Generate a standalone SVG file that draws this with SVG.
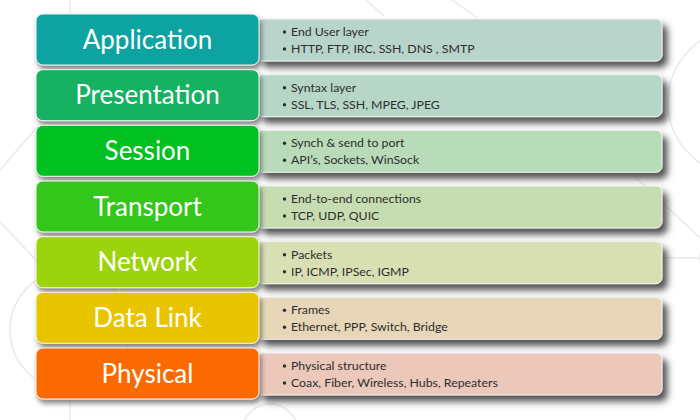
<svg xmlns="http://www.w3.org/2000/svg" width="700" height="420" viewBox="0 0 700 420">
  <defs>
    <filter id="shadowR" x="-10%" y="-30%" width="125%" height="180%">
      <feDropShadow dx="5" dy="6" stdDeviation="3.5" flood-color="#3c3c3c" flood-opacity="0.9"/>
    </filter>
    <filter id="shadowL" x="-10%" y="-30%" width="125%" height="180%">
      <feDropShadow dx="2" dy="4" stdDeviation="2.5" flood-color="#444" flood-opacity="0.65"/>
    </filter>
  </defs>
  <style>
    .bg { fill: none; stroke: #e8e8ee; stroke-width: 1.5; }
    .layer { stroke: #f4f4f4; stroke-width: 1; filter: url(#shadowL); }
    .info { stroke: #f2f2f2; stroke-width: 1; filter: url(#shadowR); }
    .name { font-family: Lato, "Open Sans", "Liberation Sans", sans-serif; font-size: 26px; fill: #ffffff; text-anchor: middle; }
    .item { font-family: Lato, "Open Sans", "Liberation Sans", sans-serif; font-size: 12.3px; fill: #2e2e2e; }
    .dot { fill: #2e2e2e; }
  </style>

  <rect width="700" height="420" fill="#ffffff"/>

  <!-- faint background ornament -->
  <g id="backdrop">
    <circle class="bg" cx="742" cy="102" r="74"/>
    <circle class="bg" cx="728" cy="258" r="28"/>
    <circle class="bg" cx="70" cy="330" r="60"/>
    <circle class="bg" cx="270" cy="432" r="28"/>
    <line class="bg" x1="0" y1="170" x2="38" y2="126"/>
    <line class="bg" x1="0" y1="222" x2="38" y2="262"/>
    <line class="bg" x1="630" y1="172" x2="700" y2="238"/>
    <line class="bg" x1="660" y1="258" x2="700" y2="258"/>
    <line class="bg" x1="366" y1="0" x2="384" y2="16"/>
    <line class="bg" x1="452" y1="0" x2="476" y2="17"/>
    <line class="bg" x1="70" y1="0" x2="70" y2="14"/>
    <line class="bg" x1="70" y1="400" x2="70" y2="420"/>
  </g>

  <!-- Application -->
  <g id="application">
    <rect class="info" x="257" y="19" width="405" height="42" rx="6" fill="#b8d4cb"/>
    <rect class="layer" x="36" y="14" width="223" height="51" rx="7" fill="#11a3a0"/>
    <text class="name" x="147.5" y="48.5">Application</text>
    <circle class="dot" cx="284.5" cy="32" r="1.7"/>
    <text class="item" x="291" y="36">End User layer</text>
    <circle class="dot" cx="284.5" cy="49" r="1.7"/>
    <text class="item" x="291" y="53">HTTP, FTP, IRC, SSH, DNS , SMTP</text>
  </g>

  <!-- Presentation -->
  <g id="presentation">
    <rect class="info" x="257" y="74.7" width="405" height="42" rx="6" fill="#b6d6c7"/>
    <rect class="layer" x="36" y="69.7" width="223" height="51" rx="7" fill="#12b163"/>
    <text class="name" x="147.5" y="104.2">Presentation</text>
    <circle class="dot" cx="284.5" cy="87.7" r="1.7"/>
    <text class="item" x="291" y="91.7">Syntax layer</text>
    <circle class="dot" cx="284.5" cy="104.7" r="1.7"/>
    <text class="item" x="291" y="108.7">SSL, TLS, SSH, MPEG, JPEG</text>
  </g>

  <!-- Session -->
  <g id="session">
    <rect class="info" x="257" y="130.3" width="405" height="42" rx="6" fill="#b8dbba"/>
    <rect class="layer" x="36" y="125.3" width="223" height="51" rx="7" fill="#04c021"/>
    <text class="name" x="147.5" y="159.8">Session</text>
    <circle class="dot" cx="284.5" cy="143.3" r="1.7"/>
    <text class="item" x="291" y="147.3">Synch &amp; send to port</text>
    <circle class="dot" cx="284.5" cy="160.3" r="1.7"/>
    <text class="item" x="291" y="164.3">API’s, Sockets, WinSock</text>
  </g>

  <!-- Transport -->
  <g id="transport">
    <rect class="info" x="257" y="186" width="405" height="42" rx="6" fill="#c6dcb1"/>
    <rect class="layer" x="36" y="181" width="223" height="51" rx="7" fill="#36c61a"/>
    <text class="name" x="147.5" y="215.5">Transport</text>
    <circle class="dot" cx="284.5" cy="199" r="1.7"/>
    <text class="item" x="291" y="203">End-to-end connections</text>
    <circle class="dot" cx="284.5" cy="216" r="1.7"/>
    <text class="item" x="291" y="220">TCP, UDP, QUIC</text>
  </g>

  <!-- Network -->
  <g id="network">
    <rect class="info" x="257" y="241.7" width="405" height="42" rx="6" fill="#d8dfb3"/>
    <rect class="layer" x="36" y="236.7" width="223" height="51" rx="7" fill="#9bd40f"/>
    <text class="name" x="147.5" y="271.2">Network</text>
    <circle class="dot" cx="284.5" cy="254.7" r="1.7"/>
    <text class="item" x="291" y="258.7">Packets</text>
    <circle class="dot" cx="284.5" cy="271.7" r="1.7"/>
    <text class="item" x="291" y="275.7">IP, ICMP, IPSec, IGMP</text>
  </g>

  <!-- Data Link -->
  <g id="data-link">
    <rect class="info" x="257" y="297.3" width="405" height="42" rx="6" fill="#e7d6b7"/>
    <rect class="layer" x="36" y="292.3" width="223" height="51" rx="7" fill="#e9c503"/>
    <text class="name" x="147.5" y="326.8">Data Link</text>
    <circle class="dot" cx="284.5" cy="310.3" r="1.7"/>
    <text class="item" x="291" y="314.3">Frames</text>
    <circle class="dot" cx="284.5" cy="327.3" r="1.7"/>
    <text class="item" x="291" y="331.3">Ethernet, PPP, Switch, Bridge</text>
  </g>

  <!-- Physical -->
  <g id="physical">
    <rect class="info" x="257" y="353" width="405" height="42" rx="6" fill="#ebc8ba"/>
    <rect class="layer" x="36" y="348" width="223" height="51" rx="7" fill="#fa6a06"/>
    <text class="name" x="147.5" y="382.5">Physical</text>
    <circle class="dot" cx="284.5" cy="366" r="1.7"/>
    <text class="item" x="291" y="370">Physical structure</text>
    <circle class="dot" cx="284.5" cy="383" r="1.7"/>
    <text class="item" x="291" y="387">Coax, Fiber, Wireless, Hubs, Repeaters</text>
  </g>

  <g id="connectors"/>
</svg>
